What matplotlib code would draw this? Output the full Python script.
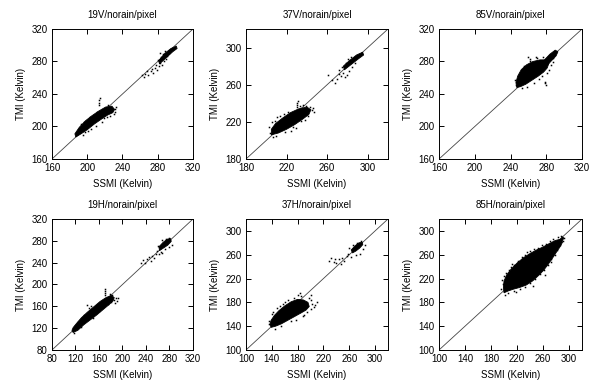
import numpy as np
import matplotlib
matplotlib.use("Agg")
import matplotlib.pyplot as plt

plt.rcParams['font.family'] = ['Liberation Sans', 'DejaVu Sans']

# panel titles, axis ranges and ticks
titles = ['19V/norain/pixel', '37V/norain/pixel', '85V/norain/pixel',
          '19H/norain/pixel', '37H/norain/pixel', '85H/norain/pixel']
lims = [(160, 320), (180, 320), (160, 320), (80, 320), (100, 320), (100, 320)]
ticks = [[160, 200, 240, 280, 320], [180, 220, 260, 300], [160, 200, 240, 280, 320],
         [80, 120, 160, 200, 240, 280, 320], [100, 140, 180, 220, 260, 300],
         [100, 140, 180, 220, 260, 300]]

# dense cores (outline of the solid black clouds), SSMI x / TMI y in K
v19_core_x = [187, 193, 200, 208, 216, 223, 229, 231, 228, 221, 213, 205, 198, 191, 186]
v19_core_y = [187, 191, 196, 203, 209, 214, 217, 221, 225, 224, 219, 213, 207, 199, 191]
v19_top_x = [282, 290, 297, 302, 301, 295, 288, 281]
v19_top_y = [277, 285, 292, 296, 299, 296, 290, 281]
v19_dot_x = [213, 213, 213, 214, 196, 193, 206, 208, 224, 226, 229, 232, 231, 219, 222, 204,
             201, 198, 192, 210, 217, 189, 195, 203, 211, 226, 233, 230,
             262, 264, 266, 269, 272, 275, 277, 279, 281, 283, 280, 284, 286, 287, 289, 285,
             278, 274, 268, 291, 293, 283, 288]
v19_dot_y = [226, 229, 232, 235, 205, 203, 212, 214, 227, 223, 222, 221, 218, 210, 212, 197,
             194, 193, 198, 201, 206, 195, 189, 212, 218, 213, 224, 215,
             263, 261, 265, 263, 268, 266, 272, 270, 274, 278, 282, 286, 289, 281, 283, 276,
             276, 271, 268, 287, 290, 291, 293]

v37_core_x = [205, 212, 220, 228, 236, 242, 244, 240, 232, 224, 216, 209, 205]
v37_core_y = [206, 208, 212, 217, 223, 228, 233, 236, 234, 230, 224, 218, 212]
v37_top_x = [277, 284, 291, 296, 295, 289, 282, 276]
v37_top_y = [276, 282, 288, 292, 295, 292, 286, 280]
v37_dot_x = [230, 230, 230, 231, 233, 236, 239, 243, 245, 246, 241, 234, 226, 218, 210, 207,
             204, 203, 209, 214, 217, 221, 206, 211, 224, 229, 238, 247,
             261, 268, 270, 272, 274, 276, 278, 280, 282, 279, 283, 285, 287, 281, 284, 275,
             272, 265]
v37_dot_y = [236, 238, 240, 242, 237, 238, 237, 236, 233, 235, 226, 221, 214, 209, 205, 204,
             208, 214, 221, 226, 228, 231, 220, 225, 210, 213, 222, 231,
             270, 262, 266, 272, 269, 273, 268, 270, 275, 283, 286, 279, 283, 288, 290, 279,
             276, 265]

v85_core_x = [247, 251, 257, 264, 271, 277, 281, 283, 280, 273, 265, 258, 252, 248, 246]
v85_core_y = [248, 249, 252, 257, 262, 267, 272, 278, 282, 282, 280, 276, 270, 262, 254]
v85_top_x = [279, 285, 291, 293, 290, 284, 278]
v85_top_y = [273, 280, 287, 292, 294, 289, 282]
v85_dot_x = [260, 262, 268, 270, 276, 279, 280, 278, 272, 275, 285, 287, 288, 250, 249, 254,
             246, 253, 258, 255, 266, 283, 281, 262, 245]
v85_dot_y = [285, 283, 286, 284, 285, 253, 251, 255, 258, 262, 276, 279, 284, 258, 262, 266,
             251, 247, 249, 274, 254, 270, 266, 281, 257]

h19_core_x = [116, 124, 134, 145, 156, 167, 177, 184, 186, 181, 172, 162, 151, 140, 130, 122, 116, 114]
h19_core_y = [112, 116, 126, 135, 144, 154, 163, 170, 176, 180, 176, 169, 159, 149, 139, 129, 121, 116]
h19_top_x = [263, 270, 277, 283, 282, 276, 269, 262]
h19_top_y = [262, 267, 272, 279, 284, 283, 277, 269]
h19_dot_x = [170, 170, 170, 171, 186, 189, 190, 187, 183, 178, 147, 143, 140, 155, 160, 175,
             120, 125, 130, 193, 135, 150, 165, 180, 118,
             232, 235, 238, 242, 245, 248, 250, 254, 257, 259, 262, 265, 272, 279, 284, 280,
             274, 267, 260, 268]
h19_dot_y = [180, 184, 188, 192, 172, 176, 170, 167, 181, 183, 160, 157, 162, 148, 152, 165,
             124, 131, 123, 175, 145, 139, 158, 168, 111,
             240, 244, 240, 246, 250, 243, 253, 248, 255, 262, 256, 260, 265, 268, 273, 286,
             284, 281, 270, 258]

h37_core_x = [139, 146, 155, 165, 175, 185, 193, 198, 196, 189, 180, 170, 160, 151, 144, 139, 137]
h37_core_y = [138, 140, 144, 150, 156, 162, 167, 173, 180, 184, 185, 181, 174, 166, 158, 150, 143]
h37_top_x = [265, 270, 276, 281, 280, 275, 269, 263]
h37_top_y = [263, 266, 271, 277, 281, 280, 275, 268]
h37_dot_x = [198, 201, 203, 205, 207, 200, 195, 190, 185, 180, 183, 175, 160, 152, 148, 142,
             140, 136, 145, 155, 170, 210, 200, 165, 157, 178, 188, 135, 192,
             228, 232, 236, 240, 244, 248, 252, 256, 258, 262, 260, 266, 272, 278, 282, 284,
             276, 270, 247, 238]
h37_dot_y = [188, 184, 178, 173, 176, 168, 164, 158, 191, 192, 195, 188, 180, 174, 170, 163,
             160, 143, 136, 140, 148, 180, 192, 184, 178, 150, 157, 148, 172,
             250, 254, 248, 246, 252, 255, 250, 258, 262, 257, 272, 276, 280, 283, 270, 276,
             262, 260, 244, 253]

h85_core_x = [200, 206, 214, 224, 234, 244, 253, 261, 268, 275, 281, 286, 290, 287, 279, 270,
              260, 250, 240, 230, 220, 211, 204, 200, 199]
h85_core_y = [196, 199, 202, 205, 209, 216, 225, 234, 244, 255, 265, 273, 281, 286, 284, 279,
              273, 268, 262, 255, 246, 236, 226, 216, 205]
h85_top_x = [284, 289, 292, 290, 285]
h85_top_y = [276, 282, 288, 290, 284]
h85_dot_x = [198, 197, 200, 203, 207, 210, 215, 222, 228, 233, 240, 246, 252, 258, 264, 270,
             276, 283, 288, 292, 291, 286, 282, 278, 273, 268, 262, 256, 248, 240, 232, 224,
             215, 206, 201, 196, 212, 236, 244, 263, 272, 218]
h85_dot_y = [210, 218, 224, 230, 235, 240, 243, 250, 256, 260, 266, 270, 272, 276, 278, 283,
             287, 289, 291, 288, 283, 276, 268, 260, 252, 243, 235, 228, 220, 212, 206, 203,
             199, 196, 193, 202, 245, 264, 208, 226, 248, 198]

cores = [(v19_core_x, v19_core_y, v19_top_x, v19_top_y),
         (v37_core_x, v37_core_y, v37_top_x, v37_top_y),
         (v85_core_x, v85_core_y, v85_top_x, v85_top_y),
         (h19_core_x, h19_core_y, h19_top_x, h19_top_y),
         (h37_core_x, h37_core_y, h37_top_x, h37_top_y),
         (h85_core_x, h85_core_y, h85_top_x, h85_top_y)]
dots = [(v19_dot_x, v19_dot_y), (v37_dot_x, v37_dot_y), (v85_dot_x, v85_dot_y),
        (h19_dot_x, h19_dot_y), (h37_dot_x, h37_dot_y), (h85_dot_x, h85_dot_y)]

fig = plt.figure(figsize=(5.92, 3.81), dpi=100)
lefts = [0.0878, 0.4155, 0.7416]
widths = [0.2382, 0.2399, 0.2416]
bottoms = [0.5827, 0.0814]
heights = [0.3412, 0.3438]

for i in range(6):
    r, c = divmod(i, 3)
    ax = fig.add_axes([lefts[c], bottoms[r], widths[c], heights[r]])
    lo, hi = lims[i]
    # 1:1 reference line
    ax.plot([lo, hi], [lo, hi], color='#444444', lw=0.6, zorder=1)
    cx, cy, tx, ty = cores[i]
    ax.fill(cx, cy, color='black', lw=0.6, zorder=2)
    ax.fill(tx, ty, color='black', lw=0.6, zorder=2)
    dx, dy = dots[i]
    ax.plot(dx, dy, ls='none', marker='s', ms=1.1, mew=0, color='black', zorder=3)
    ax.set_xlim(lo, hi)
    ax.set_ylim(lo, hi)
    ax.set_xticks(ticks[i])
    ax.set_yticks(ticks[i])
    ax.tick_params(direction='in', top=True, right=True, length=3.5, width=0.7,
                   labelsize=7, pad=3)
    for s in ax.spines.values():
        s.set_linewidth(0.7)
    ax.set_title(titles[i], fontsize=7, pad=8)
    ax.set_xlabel('SSMI (Kelvin)', fontsize=7, labelpad=4)
    ax.set_ylabel('TMI (Kelvin)', fontsize=7, labelpad=4)

fig.savefig('out.png', dpi=100)
